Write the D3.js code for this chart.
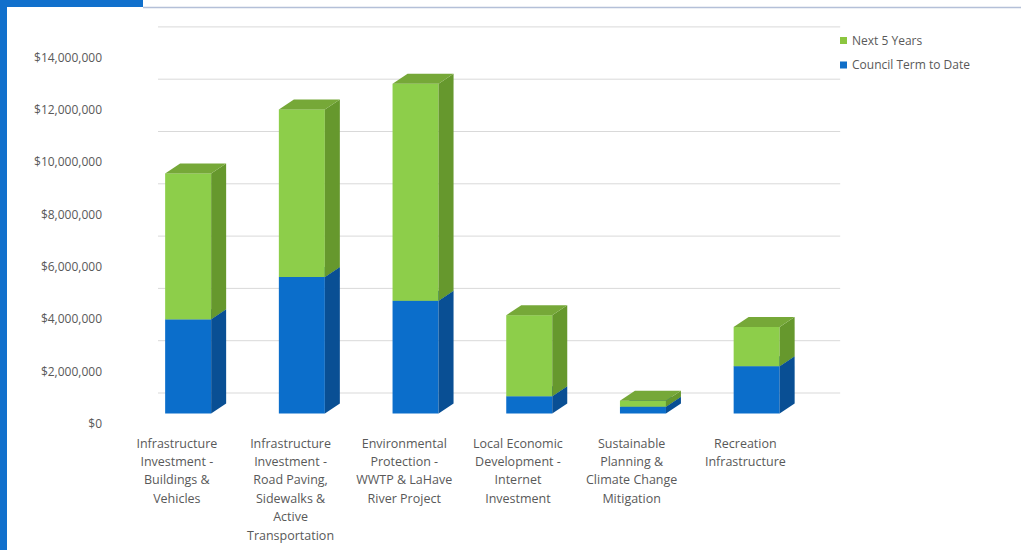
<!DOCTYPE html>
<html>
<head>
<meta charset="utf-8">
<script src="https://cdn.jsdelivr.net/npm/d3@7"></script>
<style>
  html, body { margin: 0; padding: 0; background: #ffffff; }
  svg { display: block; }
  text { font-family: "Open Sans", "Liberation Sans", sans-serif; fill: #595959; }
</style>
</head>
<body>
<svg id="chart" width="1021" height="550"></svg>
<script>
// ---- data ----
const categories = [
  "Infrastructure Investment - Buildings & Vehicles",
  "Infrastructure Investment - Road Paving, Sidewalks & Active Transportation",
  "Environmental Protection - WWTP & LaHave River Project",
  "Local Economic Development - Internet Investment",
  "Sustainable Planning & Climate Change Mitigation",
  "Recreation Infrastructure"
];
const categoryLines = [
  ["Infrastructure", "Investment -", "Buildings &", "Vehicles"],
  ["Infrastructure", "Investment -", "Road Paving,", "Sidewalks &", "Active", "Transportation"],
  ["Environmental", "Protection -", "WWTP & LaHave", "River Project"],
  ["Local Economic", "Development -", "Internet", "Investment"],
  ["Sustainable", "Planning &", "Climate Change", "Mitigation"],
  ["Recreation", "Infrastructure"]
];
const councilTermToDate = [3600000, 5220000, 4310000, 660000, 260000, 1810000];
const next5Years        = [5580000, 6410000, 8300000, 3100000, 230000, 1500000];
const seriesNames = ["Council Term to Date", "Next 5 Years"];
const yTicks = [0, 2000000, 4000000, 6000000, 8000000, 10000000, 12000000, 14000000];

// ---- layout ----
const svg = d3.select("#chart");
const W = 1021, H = 550;

// decorative frame
svg.append("rect").attr("x", 0).attr("y", 0).attr("width", W).attr("height", H).attr("fill", "#fff");
svg.append("line").attr("x1", 143).attr("x2", W).attr("y1", 7.5).attr("y2", 7.5)
  .attr("stroke", "#b4c0d8").attr("stroke-width", 1.5);
svg.append("rect").attr("x", 0).attr("y", 0).attr("width", 143).attr("height", 7).attr("fill", "#1170cc");
svg.append("rect").attr("x", 0).attr("y", 0).attr("width", 7).attr("height", H).attr("fill", "#1170cc");

// scales (axis / front plane)
const x = d3.scaleBand().domain(categories).range([120, 120 + 6 * 113.7]).paddingInner(0).paddingOuter(0);
const y = d3.scaleLinear().domain([0, 14000000]).range([423.5, 57.4]);

// depth offsets (oblique projection)
const barFront = { dx: 11.3, dy: -10 };   // axis plane -> bar front
const barDepth = { dx: 15, dy: -10 };     // bar front -> bar back
const wall = { dx: 38, dy: -31 };         // axis plane -> back wall
const barW = 46;

// gridlines on back wall
const grid = svg.append("g").attr("transform", `translate(${x.range()[0] + wall.dx},${wall.dy})`);
grid.call(d3.axisLeft(y).tickValues(yTicks).tickSize(-(x.range()[1] - x.range()[0])).tickFormat(""));
grid.select(".domain").remove();
grid.selectAll(".tick line").attr("stroke", "#d9d9d9").attr("stroke-width", 1);

// y axis labels
const yAxis = svg.append("g").attr("transform", "translate(102,0)");
yAxis.call(d3.axisLeft(y).tickValues(yTicks).tickSize(0).tickPadding(0).tickFormat(d3.format("$,")));
yAxis.select(".domain").remove();
yAxis.selectAll("text").attr("font-size", 12).attr("fill", "#595959")
  .attr("font-family", '"Open Sans", sans-serif');

// bars
const colors = {
  "Council Term to Date": { front: "#0b6ecb", side: "#094f94", top: "#1763b2" },
  "Next 5 Years": { front: "#8dce4a", side: "#66982d", top: "#76a838" }
};
const stackData = categories.map((c, i) => ({ cat: c, "Council Term to Date": councilTermToDate[i], "Next 5 Years": next5Years[i] }));
const stacked = d3.stack().keys(seriesNames)(stackData);

const barsG = svg.append("g");
categories.forEach((c, i) => {
  const cx = x(c) + x.bandwidth() / 2 + barFront.dx;
  const x0 = cx - barW / 2, x1 = cx + barW / 2;
  stacked.forEach(layer => {
    const d = layer[i];
    const col = colors[layer.key];
    const yb = y(d[0]) + barFront.dy, yt = y(d[1]) + barFront.dy;
    const g = barsG.append("g");
    // front
    g.append("rect").attr("x", x0).attr("y", yt).attr("width", barW).attr("height", yb - yt).attr("fill", col.front);
    // side
    g.append("path").attr("d",
      `M${x1},${yt} L${x1 + barDepth.dx},${yt + barDepth.dy} L${x1 + barDepth.dx},${yb + barDepth.dy} L${x1},${yb} Z`)
      .attr("fill", col.side);
    // top
    g.append("path").attr("d",
      `M${x0},${yt} L${x0 + barDepth.dx},${yt + barDepth.dy} L${x1 + barDepth.dx},${yt + barDepth.dy} L${x1},${yt} Z`)
      .attr("fill", col.top);
  });
});

// category labels
const xLab = svg.append("g");
categories.forEach((c, i) => {
  const t = xLab.append("text").attr("text-anchor", "middle").attr("font-size", 12.5)
    .attr("x", x(c) + x.bandwidth() / 2).attr("y", 447.5);
  categoryLines[i].forEach((ln, k) => {
    t.append("tspan").attr("x", x(c) + x.bandwidth() / 2).attr("dy", k === 0 ? 0 : 18.4).text(ln);
  });
});

// legend
const legendItems = [
  { name: "Next 5 Years", color: "#8cc63f", y: 40.5 },
  { name: "Council Term to Date", color: "#0f6ec8", y: 65 }
];
const lg = svg.append("g");
legendItems.forEach(it => {
  lg.append("rect").attr("x", 840).attr("y", it.y - 3.5).attr("width", 7).attr("height", 7).attr("fill", it.color);
  lg.append("text").attr("x", 852).attr("y", it.y).attr("dy", "0.35em").attr("font-size", 12).text(it.name);
});
</script>
</body>
</html>
